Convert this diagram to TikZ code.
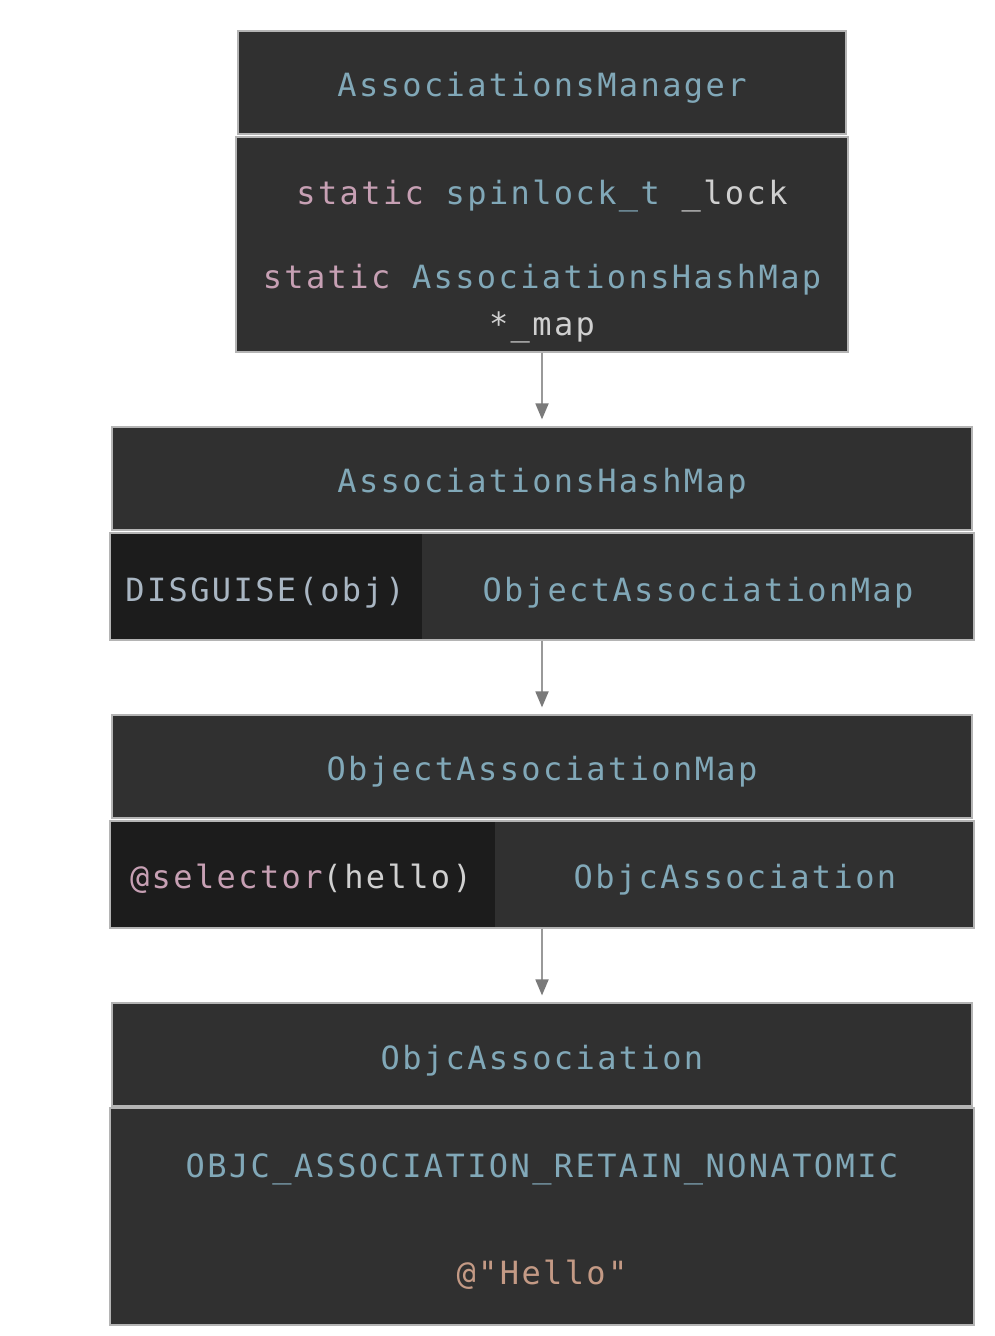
\documentclass[tikz,border=0pt]{standalone}
\usepackage{fontspec}
\usetikzlibrary{arrows.meta}
\newfontfamily\codefont[LetterSpace=7.5]{DejaVu Sans Mono}
\definecolor{boxbg}{HTML}{303030}
\definecolor{cellbg}{HTML}{1C1C1C}
\definecolor{edge}{HTML}{B4B4B4}
\definecolor{typ}{HTML}{81A8B8}
\definecolor{kw}{HTML}{C7A0B4}
\definecolor{plain}{HTML}{D0D0D0}
\definecolor{macro}{HTML}{A9B6C3}
\definecolor{strc}{HTML}{C49A85}
\definecolor{arrc}{HTML}{999999}
\definecolor{tipc}{HTML}{7A7A7A}
\begin{document}
\begin{tikzpicture}[x=1pt,y=-1pt,
  box/.style={rectangle,fill=boxbg,draw=edge,line width=1.2pt,inner sep=0pt},
  cell/.style={rectangle,fill=cellbg,inner sep=0pt},
  txt/.style={anchor=base,inner sep=0pt,font=\codefont\fontsize{32}{38}\selectfont},
  arr/.style={draw=arrc,line width=1.8pt,-{Triangle[width=13pt,length=16pt,color=tipc]},shorten >=7pt}]
\useasboundingbox[fill=white] (0,0) rectangle (994,1336);
% Box 1
\node[box,minimum width=608pt,minimum height=103pt] (t1) at (542,82.5) {};
\node[box,minimum width=612pt,minimum height=215pt] (b1) at (542,244.5) {};
\node[txt,text=typ] (t1a) at (542,96.5) {AssociationsManager};
\node[txt] (b1a) at (542,204) {\textcolor{kw}{static} \textcolor{typ}{spinlock\_t} \textcolor{plain}{\_lock}};
\node[txt] (b1b) at (542,288) {\textcolor{kw}{static} \textcolor{typ}{AssociationsHashMap}};
\node[txt,text=plain] (b1c) at (542,335) {*\_map};
% Box 2
\node[box,minimum width=860pt,minimum height=103pt] (t2) at (542,478.5) {};
\node[box,minimum width=864pt,minimum height=107pt] (r2) at (542,586.5) {};
\node[cell,minimum width=311pt,minimum height=105.5pt] (c2) at (266.3,586.5) {};
\node[txt,text=typ] (t2a) at (542,492) {AssociationsHashMap};
\node[txt,text=macro] (c2a) at (265,601) {DISGUISE(obj)};
\node[txt,text=typ] (r2a) at (698,601) {ObjectAssociationMap};
% Box 3
\node[box,minimum width=860pt,minimum height=103pt] (t3) at (542,766.5) {};
\node[box,minimum width=864pt,minimum height=107pt] (r3) at (542,874.5) {};
\node[cell,minimum width=384pt,minimum height=105.5pt] (c3) at (302.8,874.5) {};
\node[txt,text=typ] (t3a) at (542,780) {ObjectAssociationMap};
\node[txt] (c3a) at (301,888) {\textcolor{kw}{@selector}\textcolor{plain}{(hello)}};
\node[txt,text=typ] (r3a) at (735,888) {ObjcAssociation};
% Box 4
\node[box,minimum width=860pt,minimum height=103pt] (t4) at (542,1054.5) {};
\node[box,minimum width=864pt,minimum height=217pt] (b4) at (542,1216.5) {};
\node[txt,text=typ] (t4a) at (542,1069) {ObjcAssociation};
\node[txt,text=typ] (b4a) at (542,1177) {OBJC\_ASSOCIATION\_RETAIN\_NONATOMIC};
\node[txt,text=strc] (b4b) at (542,1284) {@"Hello"};
% Arrows
\draw[arr] (b1.south) -- (t2.north);
\draw[arr] (r2.south) -- (t3.north);
\draw[arr] (r3.south) -- (t4.north);
\end{tikzpicture}
\end{document}
